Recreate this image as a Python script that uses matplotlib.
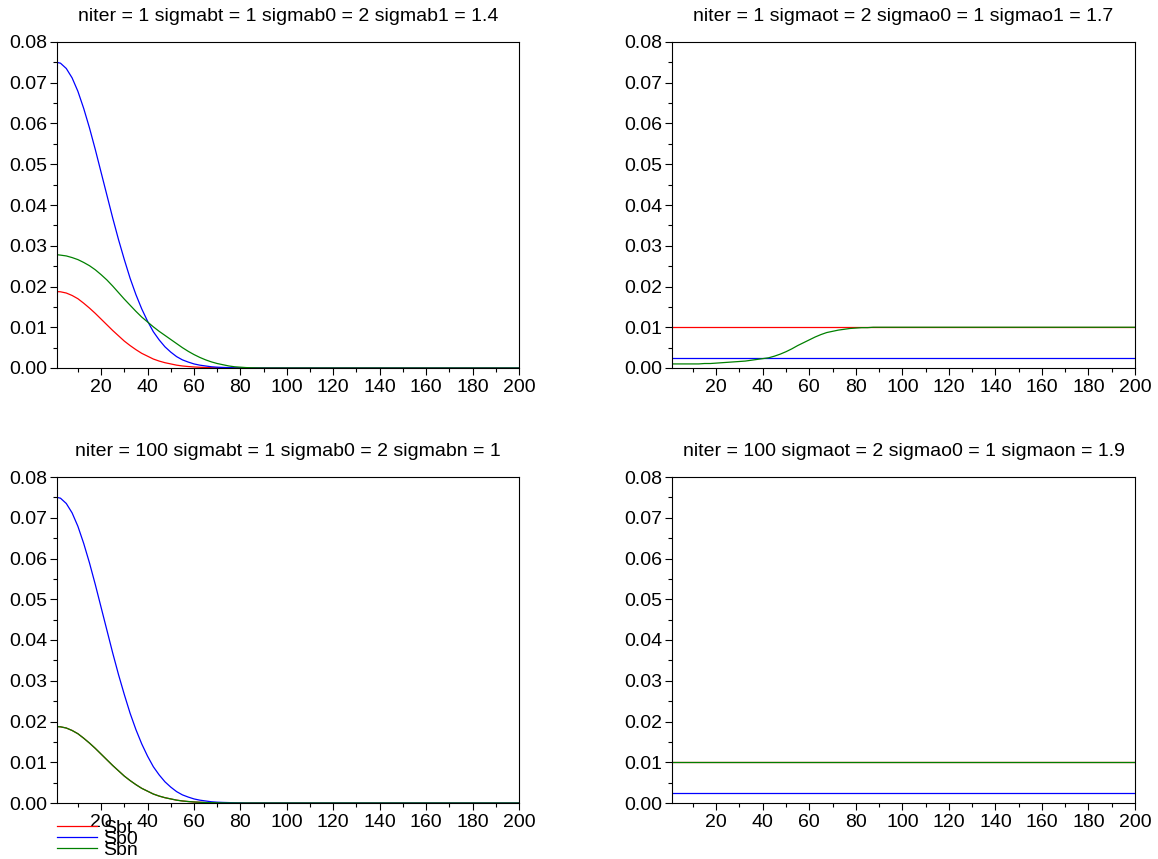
import matplotlib
matplotlib.use('Agg')
import matplotlib.pyplot as plt
from matplotlib.ticker import MultipleLocator, FormatStrFormatter

plt.rcParams['font.family'] = ['Liberation Sans', 'DejaVu Sans']

# sample positions
xGrid = [1, 2.5, 5, 7.5, 10, 12.5, 15, 17.5, 20, 22.5, 25, 27.5, 30, 32.5, 35, 37.5,
         40, 42.5, 45, 47.5, 50, 52.5, 55, 57.5, 60, 62.5, 65, 67.5, 70, 72.5, 75, 77.5,
         80, 82.5, 85, 87.5, 90, 200]
flatX = [1, 200]

# niter = 1, sigmab
sbt1 = [0.01875, 0.0187, 0.0184, 0.0178, 0.0170, 0.0159, 0.0147, 0.0134, 0.0120, 0.0106,
        0.0092, 0.0079, 0.0066, 0.0055, 0.0045, 0.0036, 0.0029, 0.0022, 0.0017, 0.0013,
        0.0010, 0.0007, 0.0005, 0.00036, 0.00025, 0.00018, 0.00012, 0.00008, 0.00005,
        0.00003, 0.00002, 0.00001, 0.0, 0.0, 0.0, 0.0, 0.0, 0.0]
sb01 = [0.0750, 0.0748, 0.0735, 0.0712, 0.0679, 0.0637, 0.0589, 0.0536, 0.0480, 0.0424,
        0.0368, 0.0315, 0.0266, 0.0220, 0.0180, 0.0145, 0.0115, 0.0089, 0.0069, 0.0052,
        0.0039, 0.0028, 0.0020, 0.00146, 0.0010, 0.0007, 0.0005, 0.0003, 0.0002, 0.00014,
        0.0001, 0.00005, 0.00003, 0.0, 0.0, 0.0, 0.0, 0.0]
sbn1 = [0.0278, 0.0277, 0.0275, 0.0271, 0.0266, 0.0259, 0.0251, 0.0241, 0.0229, 0.0216,
        0.0201, 0.0185, 0.0169, 0.0154, 0.0139, 0.0125, 0.0113, 0.0101, 0.0090, 0.0080,
        0.0070, 0.0060, 0.0050, 0.0041, 0.0033, 0.0026, 0.0020, 0.0015, 0.0011, 0.0008,
        0.0005, 0.0003, 0.0002, 0.0001, 0.00005, 0.00002, 0.0, 0.0]

# niter = 100, sigmab
sbt100 = [0.01875, 0.0187, 0.0184, 0.0178, 0.0170, 0.0159, 0.0147, 0.0134, 0.0120, 0.0106,
          0.0092, 0.0079, 0.0066, 0.0055, 0.0045, 0.0036, 0.0029, 0.0022, 0.0017, 0.0013,
          0.0010, 0.0007, 0.0005, 0.00036, 0.00025, 0.00018, 0.00012, 0.00008, 0.00005,
          0.00003, 0.00002, 0.00001, 0.0, 0.0, 0.0, 0.0, 0.0, 0.0]
sb0100 = [0.0750, 0.0748, 0.0735, 0.0712, 0.0679, 0.0637, 0.0589, 0.0536, 0.0480, 0.0424,
          0.0368, 0.0315, 0.0266, 0.0220, 0.0180, 0.0145, 0.0115, 0.0089, 0.0069, 0.0052,
          0.0039, 0.0028, 0.0020, 0.00146, 0.0010, 0.0007, 0.0005, 0.0003, 0.0002, 0.00014,
          0.0001, 0.00005, 0.00003, 0.0, 0.0, 0.0, 0.0, 0.0]
sbn100 = [0.01875, 0.0187, 0.0184, 0.0178, 0.0170, 0.0159, 0.0147, 0.0134, 0.0120, 0.0106,
          0.0092, 0.0079, 0.0066, 0.0055, 0.0045, 0.0036, 0.0029, 0.0022, 0.0017, 0.0013,
          0.0010, 0.0007, 0.0005, 0.00036, 0.00025, 0.00018, 0.00012, 0.00008, 0.00005,
          0.00003, 0.00002, 0.00001, 0.0, 0.0, 0.0, 0.0, 0.0, 0.0]

# niter = 1, sigmao
sot1 = [0.0100, 0.0100]
so01 = [0.0025, 0.0025]
son1 = [0.0010, 0.0010, 0.0010, 0.0010, 0.0010, 0.0010, 0.0011, 0.0011, 0.0012, 0.0013,
        0.0014, 0.0015, 0.0016, 0.0017, 0.0019, 0.0021, 0.0023, 0.0025, 0.0029, 0.0034,
        0.0040, 0.0047, 0.0055, 0.0062, 0.0069, 0.0076, 0.0082, 0.0087, 0.0090, 0.0093,
        0.0095, 0.0097, 0.0098, 0.0099, 0.0099, 0.0100, 0.0100, 0.0100]

# niter = 100, sigmao
sot100 = [0.0100, 0.0100]
so0100 = [0.0025, 0.0025]
son100 = [0.0100, 0.0100]

titles = ["niter = 1 sigmabt = 1 sigmab0 = 2 sigmab1 = 1.4",
          "niter = 1 sigmaot = 2 sigmao0 = 1 sigmao1 = 1.7",
          "niter = 100 sigmabt = 1 sigmab0 = 2 sigmabn = 1",
          "niter = 100 sigmaot = 2 sigmao0 = 1 sigmaon = 1.9"]
legendLabels = ["Sbt", "Sb0", "Sbn"]

RED = '#ff0000'
BLUE = '#0000ff'
GREEN = '#008000'
LW = 0.9
FS = 14

W, H = 1158, 859
fig = plt.figure(figsize=(W / 100, H / 100), dpi=100)


def makeAxes(left, top, right, bottom):
    return fig.add_axes([left / W, 1 - bottom / H, (right - left) / W, (bottom - top) / H])


def styleAxes(ax, title):
    ax.set_xlim(1, 200)
    ax.set_ylim(0, 0.08)
    ax.xaxis.set_major_locator(MultipleLocator(20))
    ax.xaxis.set_minor_locator(MultipleLocator(10))
    ax.yaxis.set_major_locator(MultipleLocator(0.01))
    ax.yaxis.set_minor_locator(MultipleLocator(0.005))
    ax.yaxis.set_major_formatter(FormatStrFormatter('%.2f'))
    ax.tick_params(which='major', direction='out', length=5, width=0.8, labelsize=FS, pad=2)
    ax.tick_params(which='minor', direction='out', length=3, width=0.8)
    ax.tick_params(axis='x', which='major', pad=3)
    for sp in ax.spines.values():
        sp.set_linewidth(0.8)
    ax.set_title(title, fontsize=FS, pad=15)


axTL = makeAxes(57, 42, 519, 368)
axTR = makeAxes(672, 42, 1135, 368)
axBL = makeAxes(57, 477, 519, 803)
axBR = makeAxes(672, 477, 1135, 803)

axTL.plot(xGrid, sbt1, color=RED, lw=LW)
axTL.plot(xGrid, sb01, color=BLUE, lw=LW)
axTL.plot(xGrid, sbn1, color=GREEN, lw=LW)

axTR.plot(flatX, sot1, color=RED, lw=LW)
axTR.plot(flatX, so01, color=BLUE, lw=LW)
axTR.plot(xGrid, son1, color=GREEN, lw=LW)

lineT, = axBL.plot(xGrid, sbt100, color=RED, lw=LW)
line0, = axBL.plot(xGrid, sb0100, color=BLUE, lw=LW)
lineN, = axBL.plot(xGrid, sbn100, color=GREEN, lw=LW)

axBR.plot(flatX, sot100, color=RED, lw=LW)
axBR.plot(flatX, so0100, color=BLUE, lw=LW)
axBR.plot(flatX, son100, color=GREEN, lw=LW)

for ax, t in zip([axTL, axTR, axBL, axBR], titles):
    styleAxes(ax, t)

# legend sits under the lower-left axes, overlapping the tick labels like the original
leg = axBL.legend([lineT, line0, lineN], legendLabels, loc='upper left',
                  bbox_to_anchor=(57 / W, 1 - 819 / H), bbox_transform=fig.transFigure,
                  frameon=False, fontsize=FS, borderpad=0, borderaxespad=0,
                  handlelength=2.06, handletextpad=0.3, labelspacing=-0.34)

fig.savefig('out.png', dpi=100)
